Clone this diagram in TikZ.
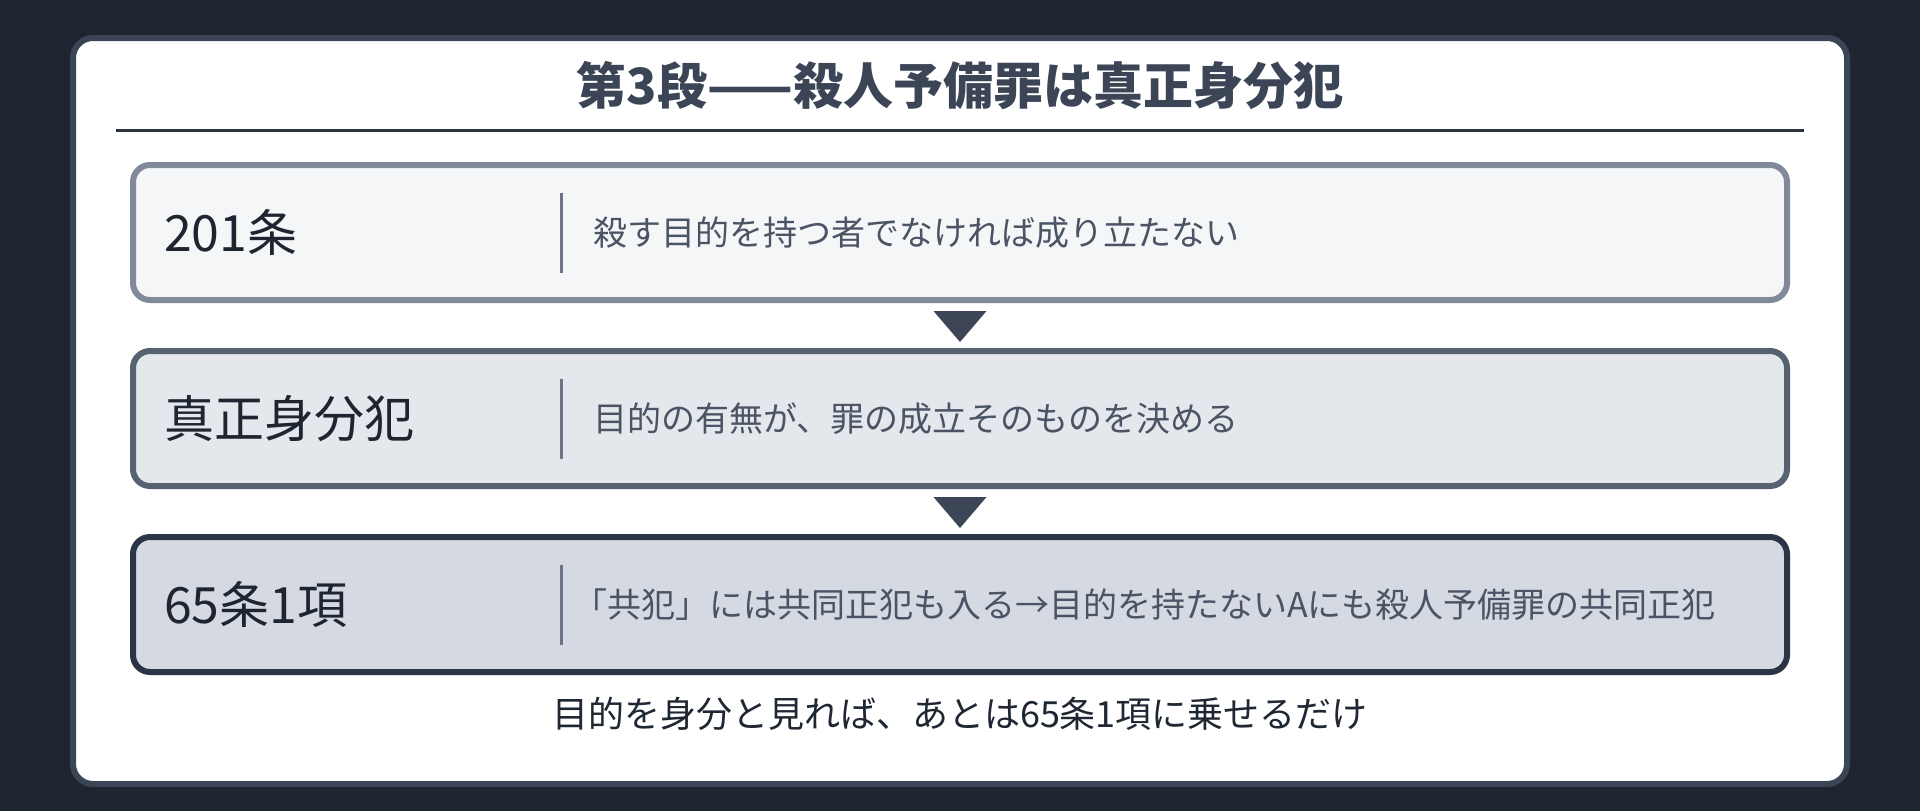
\documentclass[tikz,border=0pt]{standalone}
\usepackage{fontspec}
\setmainfont{Noto Sans CJK JP}
\usepackage{xcolor}
\usepackage{tikz}
\usetikzlibrary{positioning}

\definecolor{bgdark}{HTML}{1E2430}
\definecolor{cardline}{HTML}{3B4556}
\definecolor{rulecol}{HTML}{2B3340}
\definecolor{lineA}{HTML}{818A99}
\definecolor{fillA}{HTML}{F4F6F8}
\definecolor{lineB}{HTML}{566172}
\definecolor{fillB}{HTML}{E4E7EC}
\definecolor{lineC}{HTML}{2C3545}
\definecolor{fillC}{HTML}{D5DAE2}
\definecolor{divgray}{HTML}{6B7585}
\definecolor{labeltext}{HTML}{1E2530}
\definecolor{desctext}{HTML}{4A5464}
\definecolor{notecol}{HTML}{1F2733}

\tikzset{
  rowbox/.style={rounded corners=17pt, line width=6pt, minimum width=1654pt,
    minimum height=135pt, inner sep=0pt, outer sep=0pt},
  lbl/.style={inner sep=0pt, outer sep=0pt, text=labeltext, font=\fontsize{50}{58}\selectfont},
  desc/.style={inner sep=0pt, outer sep=0pt, text=desctext, font=\fontsize{34}{40}\selectfont},
  divline/.style={draw=divgray, line width=3pt},
  tri/.style={fill=cardline},
  titletext/.style={inner sep=0pt, text=cardline, font=\bfseries\fontsize{50}{58}\selectfont},
  notetext/.style={inner sep=0pt, text=notecol, font=\fontsize{36}{42}\selectfont},
}

\begin{document}
\begin{tikzpicture}[x=1pt,y=-1pt]

  \fill[bgdark] (0,0) rectangle (1920,811);
  \draw[cardline, fill=white, line width=6pt, rounded corners=20pt] (73,38) rectangle (1847,784);

  % title
  \node[titletext] (title) at (960,86) {第3段——殺人予備罪は真正身分犯};
  \draw[rulecol, line width=3pt] (116,130) -- (1804,130);

  % the three steps
  \node[rowbox, draw=lineA, fill=fillA] (b1) at (960,232.5) {};
  \node[rowbox, draw=lineB, fill=fillB, below=51pt of b1] (b2) {};
  \node[rowbox, draw=lineC, fill=fillC, below=51pt of b2] (b3) {};

  \coordinate[below=11pt of b1.south] (t1);
  \coordinate[below=11pt of b2.south] (t2);
  \fill[tri] (t1) +(-26.5,0) -- +(26.5,0) -- +(0,31) -- cycle;
  \fill[tri] (t2) +(-26.5,0) -- +(26.5,0) -- +(0,31) -- cycle;

  \node[lbl, right=31pt of b1.west] (k1) {201条};
  \node[lbl, right=31pt of b2.west] (k2) {真正身分犯};
  \node[lbl, right=31pt of b3.west] (k3) {65条1項};

  \coordinate[right=428pt of b1.west] (d1);
  \coordinate[right=428pt of b2.west] (d2);
  \coordinate[right=428pt of b3.west] (d3);
  \draw[divline] ([yshift=40pt]d1) -- ([yshift=-40pt]d1);
  \draw[divline] ([yshift=40pt]d2) -- ([yshift=-40pt]d2);
  \draw[divline] ([yshift=40pt]d3) -- ([yshift=-40pt]d3);

  \node[desc, right=460pt of b1.west] (s1) {殺す目的を持つ者でなければ成り立たない};
  \node[desc, right=460pt of b2.west] (s2) {目的の有無が、罪の成立そのものを決める};
  \node[desc, right=440pt of b3.west] (s3) {「共犯」には共同正犯も入る→目的を持たないAにも殺人予備罪の共同正犯};

  \node[notetext] (note) at (960,714) {目的を身分と見れば、あとは65条1項に乗せるだけ};
\end{tikzpicture}
\end{document}
